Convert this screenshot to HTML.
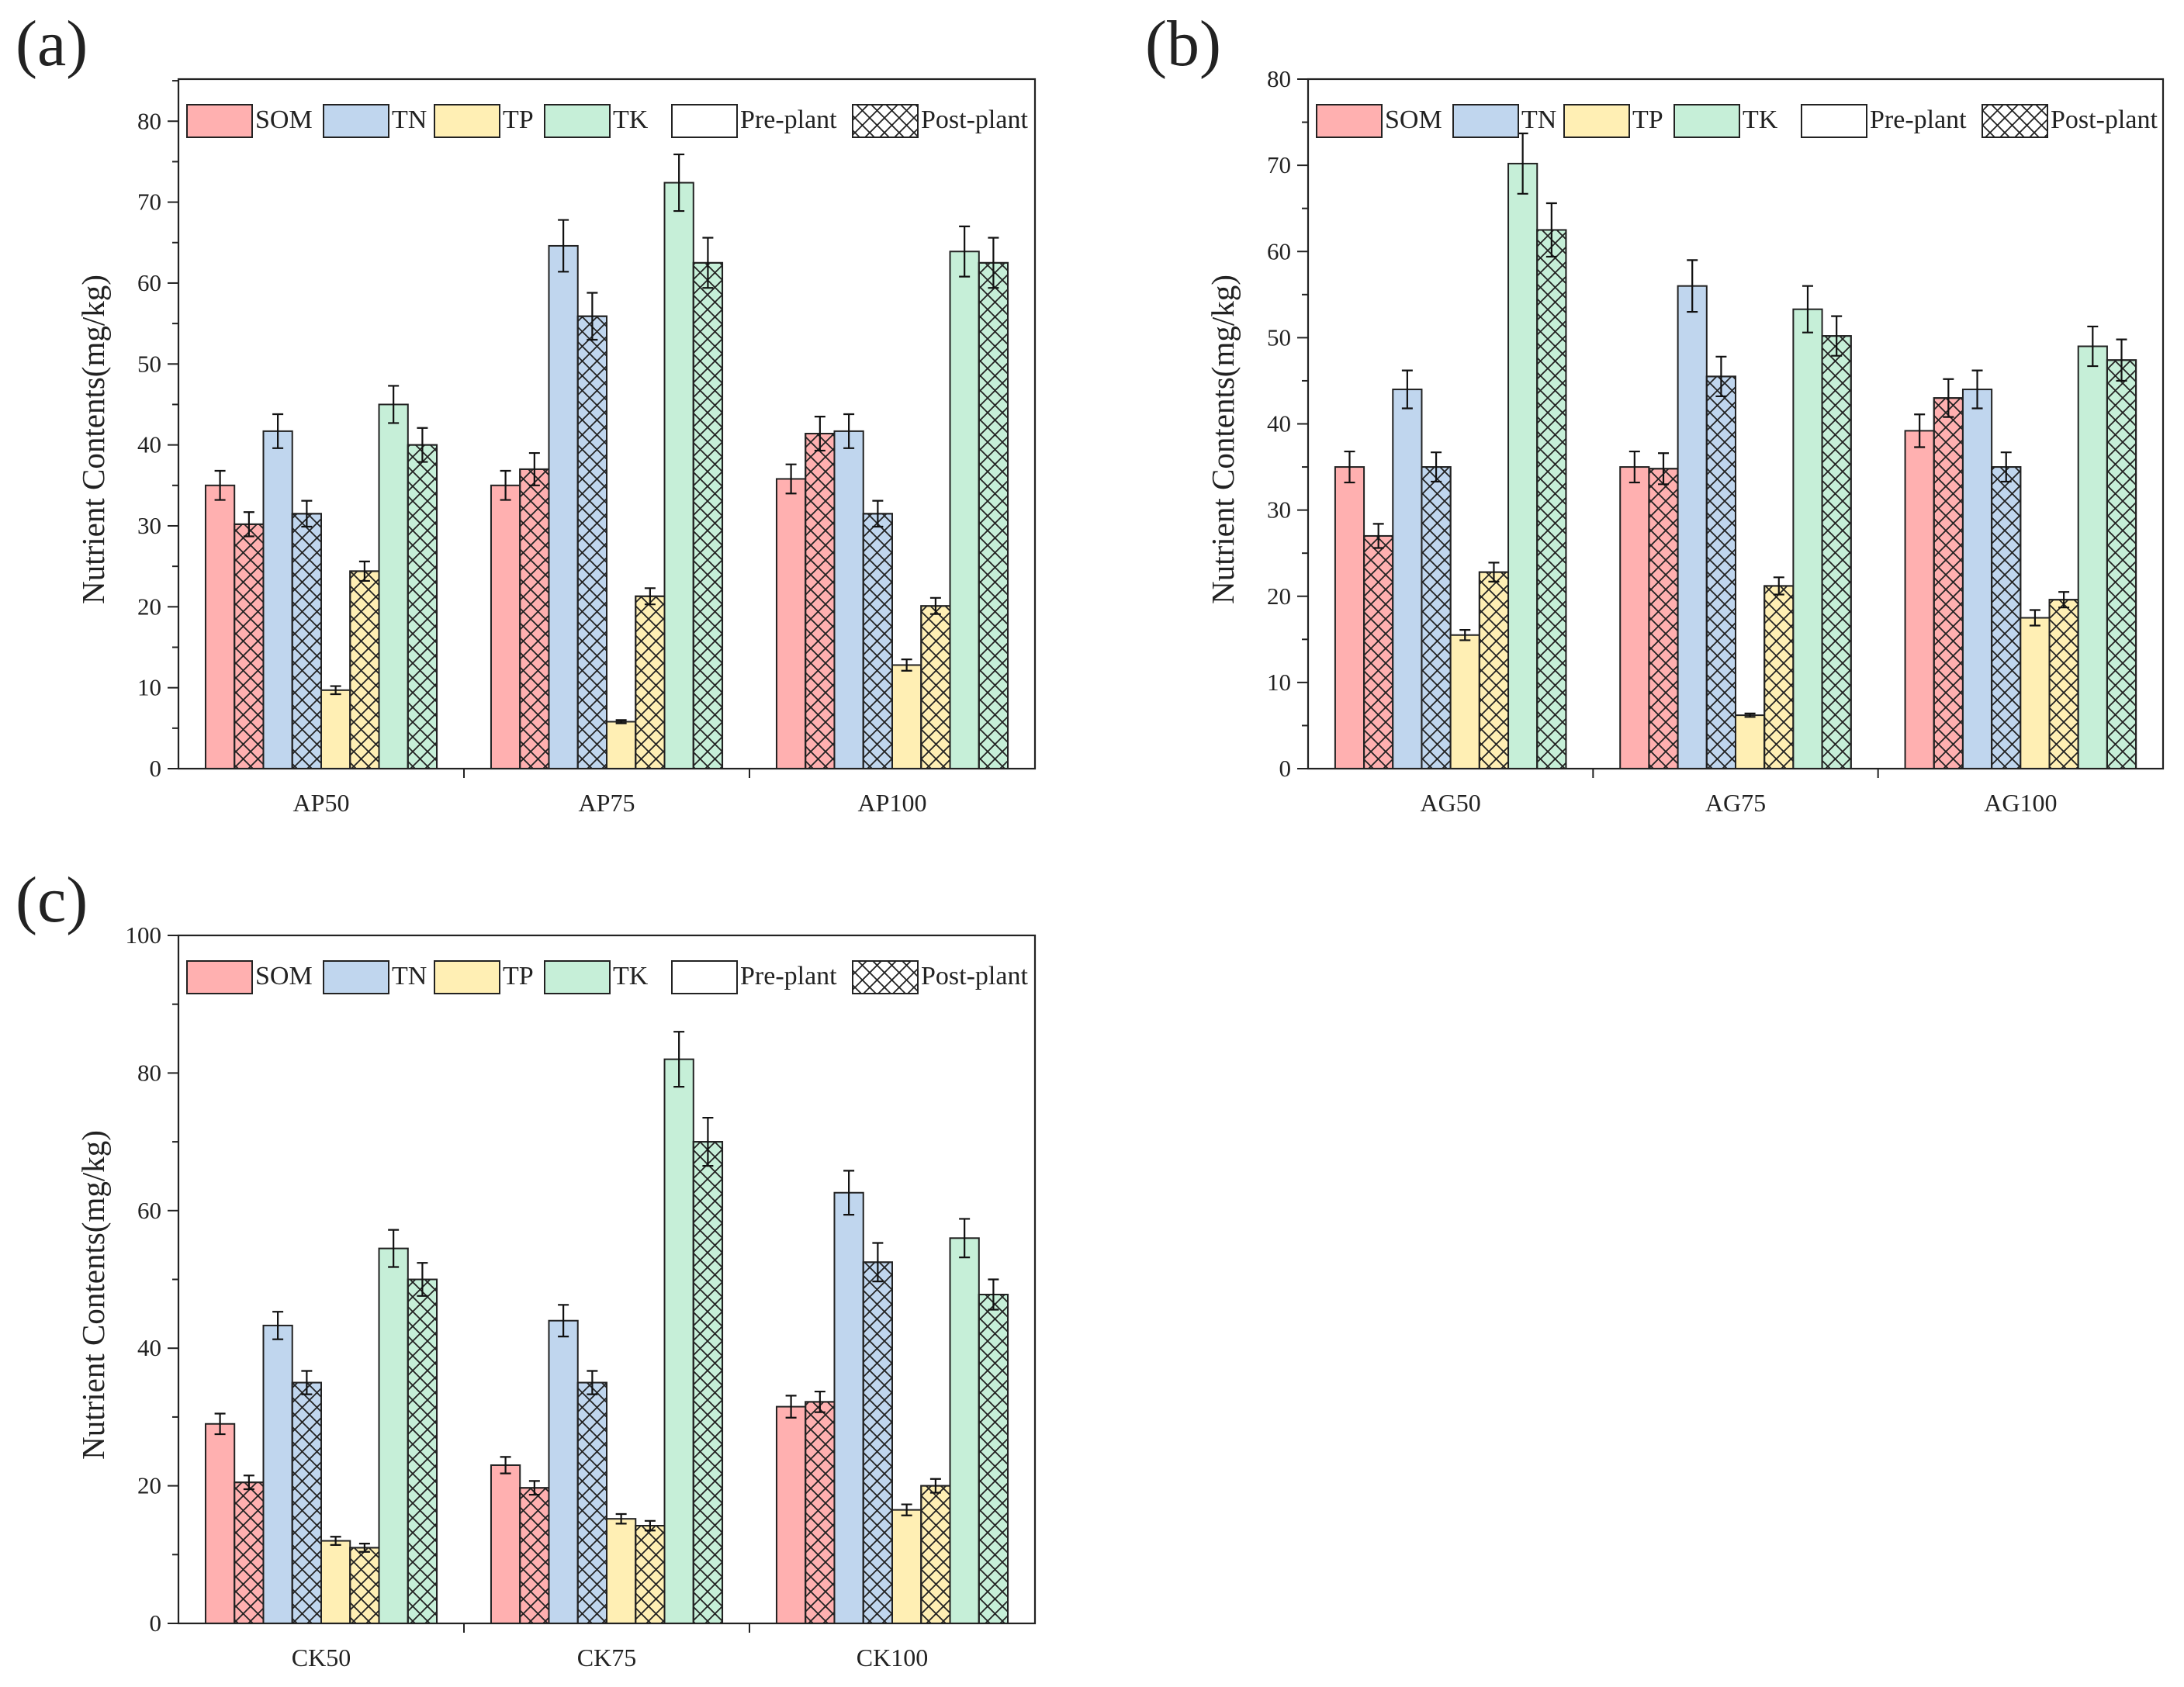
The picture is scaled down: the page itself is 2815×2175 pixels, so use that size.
<!DOCTYPE html>
<html><head><meta charset="utf-8"><style>
html,body{margin:0;padding:0;background:#fff;}
svg{display:block;font-family:"Liberation Serif",serif;}
</style></head><body>
<svg id="fig" width="2815" height="2175" viewBox="0 0 2815 2175" xmlns="http://www.w3.org/2000/svg">
<defs>
<pattern id="hatch" patternUnits="userSpaceOnUse" width="19" height="19">
<path d="M0,0 L19,19 M19,0 L0,19" stroke="#222" stroke-width="1.8" fill="none"/>
</pattern>
</defs>
</svg>
<script>
const seriesNames = ["SOM","TN","TP","TK"];
const seriesColors = ["#ffb0b0","#c0d6ee","#ffefb4","#c6efd8"];
const catsA = ["AP50","AP75","AP100"];
const valsA = [[35,30.2,41.7,31.5,9.7,24.4,45,40],[35,37,64.6,55.9,5.8,21.3,72.4,62.5],[35.8,41.4,41.7,31.5,12.8,20.1,63.9,62.5]];
const errsA = [[1.8,1.5,2.1,1.6,0.5,1.2,2.3,2.1],[1.8,2,3.2,2.9,0.2,1,3.5,3.1],[1.8,2.1,2.1,1.6,0.7,1,3.1,3.1]];
const ticksA = [0,10,20,30,40,50,60,70,80];
const catsB = ["AG50","AG75","AG100"];
const valsB = [[35,27,44,35,15.5,22.8,70.2,62.5],[35,34.8,56,45.5,6.2,21.2,53.3,50.2],[39.2,43,44,35,17.5,19.6,49,47.4]];
const errsB = [[1.8,1.4,2.2,1.7,0.6,1.1,3.5,3.1],[1.8,1.8,3,2.3,0.2,1,2.7,2.3],[1.9,2.2,2.2,1.7,0.9,0.9,2.3,2.4]];
const ticksB = [0,10,20,30,40,50,60,70,80];
const catsC = ["CK50","CK75","CK100"];
const valsC = [[29,20.5,43.3,35,12,11,54.5,50],[23,19.7,44,35,15.2,14.2,82,70],[31.5,32.2,62.6,52.5,16.5,20,56,47.8]];
const errsC = [[1.5,1,2,1.7,0.6,0.6,2.7,2.4],[1.2,1,2.3,1.7,0.7,0.7,4,3.5],[1.6,1.5,3.2,2.8,0.8,1,2.8,2.2]];
const ticksC = [0,20,40,60,80,100];

const NS="http://www.w3.org/2000/svg";
const svg=document.getElementById('fig');
function mk(tag,attrs,parent,text){const e=document.createElementNS(NS,tag);for(const k in attrs)e.setAttribute(k,attrs[k]);if(text!==undefined)e.textContent=text;(parent||svg).appendChild(e);return e;}

function panel(id,letter,L,R,T,B,ymax,cats,vals,errs,ticks,minorStep){
  const g=mk('g',{});
  
  
  const y=v=>B-(v/ymax)*(B-T);
  const groupW=(R-L)/cats.length;
  const barW=groupW*0.81/8;
  cats.forEach((c,ci)=>{
    const x0=L+groupW*ci+groupW*(1-0.81)/2;
    vals[ci].forEach((v,k)=>{
      const s=Math.floor(k/2), post=k%2===1;
      const bx=x0+k*barW;
      const r=mk('rect',{x:bx,y:y(v),width:barW,height:B-y(v),fill:seriesColors[s],stroke:'#222','stroke-width':2},g);
      
      
      if(post){const h=mk('rect',{x:bx,y:y(v),width:barW,height:B-y(v),fill:'url(#hatch)',stroke:'#222','stroke-width':2},g);
        
        }
      const e=errs[ci][k], cx=bx+barW/2;
      const eb=mk('path',{d:`M${cx},${y(v+e)}V${y(v-e)}M${cx-7},${y(v+e)}H${cx+7}M${cx-7},${y(v-e)}H${cx+7}`,stroke:'#111','stroke-width':2.2,fill:'none'},g);
      
      
    });
    const t=mk('text',{x:L+groupW*(ci+0.5),y:B+55,'font-size':32,'text-anchor':'middle',fill:'#222'},g,c);
    
    
    if(ci>0){const tk=mk('line',{x1:L+groupW*ci,x2:L+groupW*ci,y1:B,y2:B+12,stroke:'#222','stroke-width':2},g);
      
      }
  });
  const fr=mk('rect',{x:L,y:T,width:R-L,height:B-T,fill:'none',stroke:'#222','stroke-width':2.2},g);
  
  
  ticks.forEach(t=>{
    const ln=mk('line',{x1:L-14,x2:L,y1:y(t),y2:y(t),stroke:'#222','stroke-width':2},g);
    
    
    const tx=mk('text',{x:L-22,y:y(t)+10,'font-size':31,'text-anchor':'end',fill:'#222'},g,String(t));
    
    
  });
  for(let m=minorStep;m<ymax;m+=minorStep*2){
    const ln=mk('line',{x1:L-8,x2:L,y1:y(m),y2:y(m),stroke:'#222','stroke-width':2},g);
    
    
  }
  const yl=mk('text',{transform:`translate(${L-96},${(T+B)/2+20}) rotate(-90)`,'font-size':41,'text-anchor':'middle',fill:'#222'},g,'Nutrient Contents(mg/kg)');
  
  
  const pl=mk('text',{x:L-210,y:T-18,'font-size':84,fill:'#222'},g,'('+letter+')');
  
  
  const ly=T+33, lh=42;
  const items=[[11,'SOM',0],[187,'TN',1],[330,'TP',2],[472,'TK',3],[636,'Pre-plant',-1],[869,'Post-plant',-2]];
  items.forEach(([dx,label,s])=>{
    const lx=L+dx;
    const sw=mk('rect',{x:lx,y:ly,width:84,height:lh,fill:s>=0?seriesColors[s]:(s===-2?'url(#hatch)':'#fff'),stroke:'#222','stroke-width':2},g);
    
    
    const lt=mk('text',{x:lx+88,y:ly+30,'font-size':34,fill:'#222'},g,label);
    
    
  });
}
panel('a','a',230,1334,102,991,85.2,catsA,valsA,errsA,ticksA,5);
panel('b','b',1686,2788,102,991,80,catsB,valsB,errsB,ticksB,5);
panel('c','c',230,1334,1206,2093,100,catsC,valsC,errsC,ticksC,10);
</script>
</body></html>
